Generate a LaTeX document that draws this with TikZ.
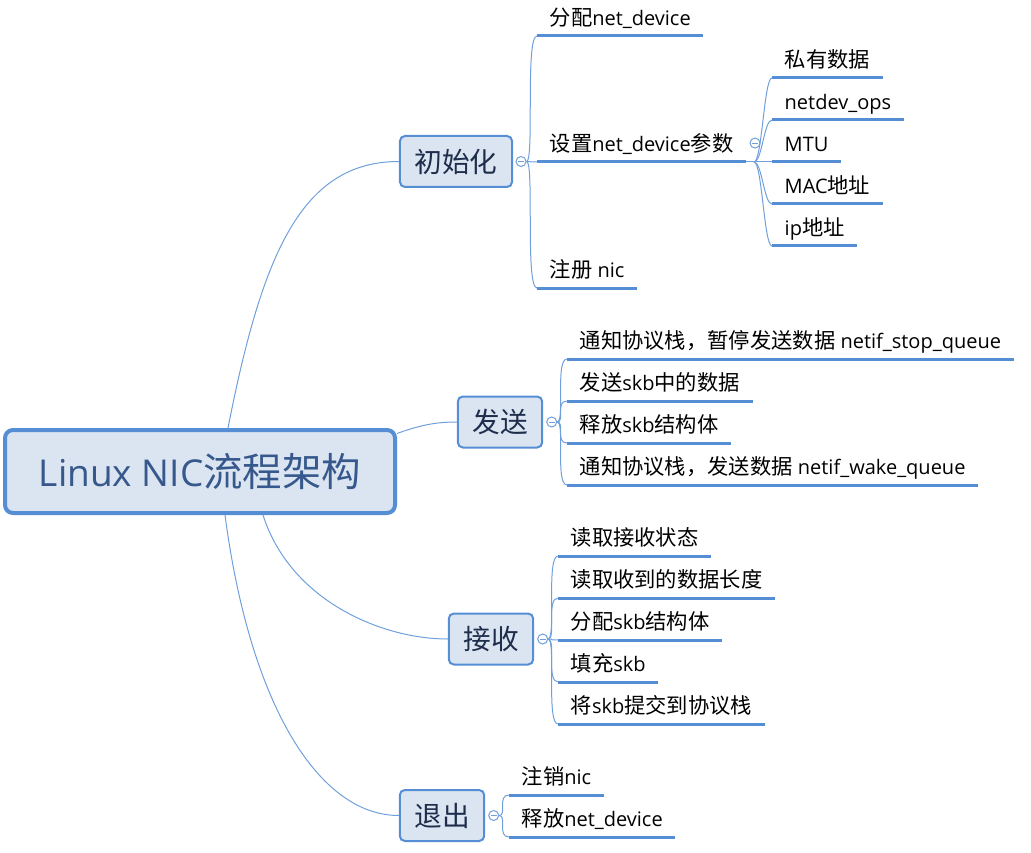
\documentclass[tikz,border=0pt]{standalone}
\usepackage{fontspec}
\setmainfont{Open Sans}
\newfontfamily\cjk[Scale=1.065]{Noto Sans CJK SC}
\newcommand{\zh}[1]{{\cjk #1}}
\usetikzlibrary{positioning}
\definecolor{lineblue}{RGB}{85,142,213}
\definecolor{twigblue}{RGB}{112,160,220}
\definecolor{boxfill}{RGB}{219,229,241}
\definecolor{roottext}{RGB}{54,88,140}
\definecolor{branchtext}{RGB}{30,45,75}
\begin{document}
\begin{tikzpicture}[x=1pt,y=-1pt,
  root/.style={draw=lineblue,line width=4pt,fill=boxfill,rounded corners=8pt,minimum width=390pt,minimum height=83pt,text=roottext,font=\fontsize{37}{40}\selectfont},
  branch/.style={draw=lineblue,line width=2pt,fill=boxfill,rounded corners=5pt,inner xsep=14.5pt,minimum height=51pt,text=branchtext,font=\fontsize{26}{30}\selectfont\cjk},
  knob/.style={circle,draw=twigblue,fill=white,line width=1pt,minimum size=10pt,inner sep=0pt,
    path picture={\draw[twigblue,line width=0.8pt] ([xshift=-3pt]path picture bounding box.center) -- ([xshift=3pt]path picture bounding box.center);}},
  leaf/.style={anchor=south west,inner xsep=12.5pt,inner ysep=0pt,text height=15pt,text depth=10.5pt,font=\fontsize{20}{23}\selectfont},
  uline/.style={draw=lineblue,line width=3pt},
  twig/.style={draw=twigblue,line width=1pt}]
\useasboundingbox (0,0) rectangle (1031,853);
\node[root] (root) at (200,471.5) {Linux NIC\zh{流程架构}};
\node[branch] (init) at (456,161.5) {初始化};
\node[branch] (send) at (500,422) {发送};
\node[branch] (recv) at (491,639) {接收};
\node[branch] (exit) at (442,815.5) {退出};
\node[knob,right=2.5pt of init] (initk) {};
\node[knob,right=3pt of send] (sendk) {};
\node[knob,right=3pt of recv] (recvk) {};
\node[knob,right=3pt of exit] (exitk) {};
\draw[twig] ([xshift=28pt]root.north) .. controls +(34,-173) and +(-98,0) .. (init.west);
\draw[twig] ([yshift=38pt]root.east) .. controls +(22,-8) and +(-22,0) .. (send.west);
\draw[twig] ([xshift=63pt]root.south) .. controls +(27,85) and +(-67,0) .. (recv.west);
\draw[twig] ([xshift=25pt]root.south) .. controls +(25,190) and +(-80,0) .. (exit.west);
\node[leaf] (alloc) at (537,36) {\zh{分配}net\_device};
\node[leaf] (setp) at (537,162) {\zh{设置}net\_device\zh{参数}};
\node[leaf] (reg) at (537,288) {\zh{注册} nic};
\node[knob] (setpk) at ([xshift=9pt,yshift=6pt]setp.east) {};
\node[leaf] (priv) at (772,78) {\zh{私有数据}};
\node[leaf] (ops) at (772,120) {netdev\_ops};
\node[leaf] (mtu) at (772,162) {MTU};
\node[leaf] (mac) at (772,204) {MAC\zh{地址}};
\node[leaf] (ip) at (772,246) {ip\zh{地址}};
\node[leaf] (stopq) at (567,359) {\zh{通知协议栈，暂停发送数据} netif\_stop\_queue};
\node[leaf] (xmit) at (567,401) {\zh{发送}skb\zh{中的数据}};
\node[leaf] (freeskb) at (567,443) {\zh{释放}skb\zh{结构体}};
\node[leaf] (wakeq) at (567,485) {\zh{通知协议栈，发送数据} netif\_wake\_queue};
\node[leaf] (rstat) at (558,556) {\zh{读取接收状态}};
\node[leaf] (rlen) at (558,598) {\zh{读取收到的数据长度}};
\node[leaf] (allocskb) at (558,640) {\zh{分配}skb\zh{结构体}};
\node[leaf] (fill) at (558,682) {\zh{填充}skb};
\node[leaf] (rx) at (558,724) {\zh{将}skb\zh{提交到协议栈}};
\node[leaf] (unreg) at (509,795) {\zh{注销}nic};
\node[leaf] (freedev) at (509,837) {\zh{释放}net\_device};
\draw[twig] (initk.east) .. controls +(8,0) and +(-12,0) .. (alloc.south west);
\draw[twig] (initk.east) .. controls +(8,0) and +(-12,0) .. (setp.south west);
\draw[twig] (initk.east) .. controls +(8,0) and +(-12,0) .. (reg.south west);
\draw[twig] (setp.south east) -- (mtu.south west);
\draw[twig] ([xshift=8pt]setp.south east) .. controls +(8,0) and +(-8,0) .. (priv.south west);
\draw[twig] ([xshift=8pt]setp.south east) .. controls +(8,0) and +(-8,0) .. (ops.south west);
\draw[twig] ([xshift=8pt]setp.south east) .. controls +(8,0) and +(-8,0) .. (mac.south west);
\draw[twig] ([xshift=8pt]setp.south east) .. controls +(8,0) and +(-8,0) .. (ip.south west);
\draw[twig] (sendk.east) .. controls +(8,0) and +(-12,0) .. (stopq.south west);
\draw[twig] (sendk.east) .. controls +(8,0) and +(-12,0) .. (xmit.south west);
\draw[twig] (sendk.east) .. controls +(8,0) and +(-12,0) .. (freeskb.south west);
\draw[twig] (sendk.east) .. controls +(8,0) and +(-12,0) .. (wakeq.south west);
\draw[twig] (recvk.east) .. controls +(8,0) and +(-12,0) .. (rstat.south west);
\draw[twig] (recvk.east) .. controls +(8,0) and +(-12,0) .. (rlen.south west);
\draw[twig] (recvk.east) .. controls +(8,0) and +(-12,0) .. (allocskb.south west);
\draw[twig] (recvk.east) .. controls +(8,0) and +(-12,0) .. (fill.south west);
\draw[twig] (recvk.east) .. controls +(8,0) and +(-12,0) .. (rx.south west);
\draw[twig] (exitk.east) .. controls +(8,0) and +(-12,0) .. (unreg.south west);
\draw[twig] (exitk.east) .. controls +(8,0) and +(-12,0) .. (freedev.south west);
\draw[uline] (alloc.south west) -- (alloc.south east);
\draw[uline] (setp.south west) -- (setp.south east);
\draw[uline] (reg.south west) -- (reg.south east);
\draw[uline] (priv.south west) -- (priv.south east);
\draw[uline] (ops.south west) -- (ops.south east);
\draw[uline] (mtu.south west) -- (mtu.south east);
\draw[uline] (mac.south west) -- (mac.south east);
\draw[uline] (ip.south west) -- (ip.south east);
\draw[uline] (stopq.south west) -- (stopq.south east);
\draw[uline] (xmit.south west) -- (xmit.south east);
\draw[uline] (freeskb.south west) -- (freeskb.south east);
\draw[uline] (wakeq.south west) -- (wakeq.south east);
\draw[uline] (rstat.south west) -- (rstat.south east);
\draw[uline] (rlen.south west) -- (rlen.south east);
\draw[uline] (allocskb.south west) -- (allocskb.south east);
\draw[uline] (fill.south west) -- (fill.south east);
\draw[uline] (rx.south west) -- (rx.south east);
\draw[uline] (unreg.south west) -- (unreg.south east);
\draw[uline] (freedev.south west) -- (freedev.south east);
\end{tikzpicture}
\end{document}
